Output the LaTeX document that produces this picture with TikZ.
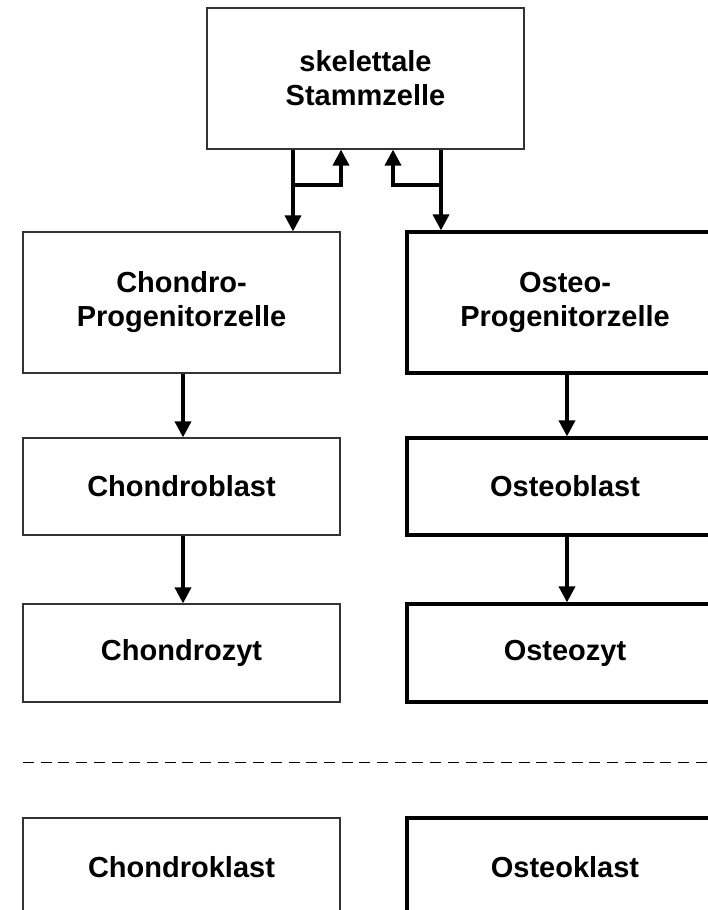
\documentclass[tikz,border=0pt]{standalone}
\usepackage{fontspec}
\setmainfont{Liberation Sans}
\usetikzlibrary{arrows.meta}
\begin{document}
\begin{tikzpicture}[x=1pt,y=-1pt,
  boxbase/.style={rectangle, align=center, font=\bfseries\fontsize{29}{34}\selectfont, inner sep=0pt},
  thinbox/.style={boxbase, draw=black!80, line width=1.2pt},
  thickbox/.style={boxbase, draw=black, line width=3.2pt},
  arr/.style={draw=black, line width=3.6pt, -{Triangle[length=16pt,width=16pt]}}]
\clip (0,0) rectangle (708,910);
\fill[white] (0,0) rectangle (708,910);
% nodes
\node[thinbox, minimum width=317pt, minimum height=141pt] (top) at (365.5,78.5) {skelettale\\Stammzelle};
\node[thinbox, minimum width=317pt, minimum height=141pt] (cp) at (181.5,302.5) {Chondro-\\Progenitorzelle};
\node[thickbox, minimum width=316pt, minimum height=141pt] (op) at (565,302.5) {Osteo-\\Progenitorzelle};
\node[thinbox, minimum width=317pt, minimum height=97pt] (cb) at (181.5,486.5) {Chondroblast};
\node[thickbox, minimum width=316pt, minimum height=97pt] (ob) at (565,486.5) {Osteoblast};
\node[thinbox, minimum width=317pt, minimum height=98pt] (cz) at (181.5,653) {Chondrozyt};
\node[thickbox, minimum width=316pt, minimum height=98pt] (oz) at (565,653) {Osteozyt};
\node[thinbox, minimum width=317pt, minimum height=98pt] (ck) at (181.5,867) {Chondroklast};
\node[thickbox, minimum width=316pt, minimum height=98pt] (ok) at (565,867) {Osteoklast};
% branch coordinates
\coordinate (l1) at (293,185);
\coordinate (l2) at (341,185);
\coordinate (r1) at (441,185);
\coordinate (r2) at (393,185);
% top connectors
\draw[arr] (l1 |- top.south) -- (l1 |- cp.north);
\draw[arr] (l1) -- (l2) -- (l2 |- top.south);
\draw[arr] (r1 |- top.south) -- (r1 |- op.north);
\draw[arr] (r1) -- (r2) -- (r2 |- top.south);
% column connectors
\coordinate (lc) at (183,0);
\coordinate (rc) at (567,0);
\draw[arr] (lc |- cp.south) -- (lc |- cb.north);
\draw[arr] (lc |- cb.south) -- (lc |- cz.north);
\draw[arr] (rc |- op.south) -- (rc |- ob.north);
\draw[arr] (rc |- ob.south) -- (rc |- oz.north);
% separator
\draw[line width=1pt, dash pattern=on 11pt off 6.7pt] (23,762) -- (712,762);
\end{tikzpicture}
\end{document}
